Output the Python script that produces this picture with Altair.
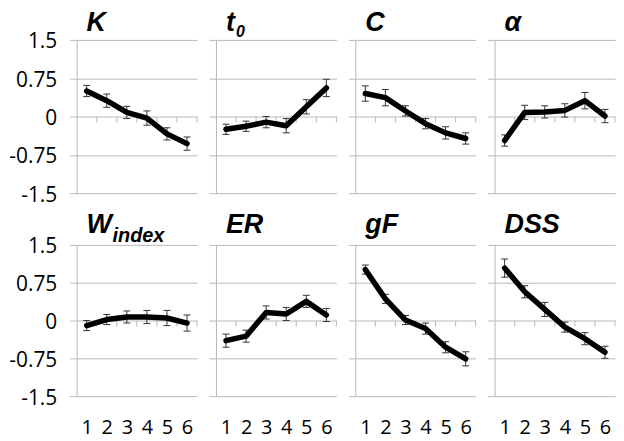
import altair as alt
import pandas as pd

steps = [1, 2, 3, 4, 5, 6]
y_ticks = [-1.5, -0.75, 0, 0.75, 1.5]

titles = ["K", "t", "C", "α", "W", "ER", "gF", "DSS"]
subs = ["", "0", "", "", "index", "", "", ""]

K_mean = [0.50, 0.31, 0.08, -0.03, -0.34, -0.53]
K_err = [0.11, 0.13, 0.12, 0.14, 0.12, 0.13]
t0_mean = [-0.25, -0.19, -0.11, -0.18, 0.19, 0.56]
t0_err = [0.10, 0.10, 0.11, 0.14, 0.14, 0.17]
C_mean = [0.45, 0.37, 0.11, -0.14, -0.32, -0.43]
C_err = [0.15, 0.16, 0.10, 0.10, 0.12, 0.11]
alpha_mean = [-0.47, 0.08, 0.09, 0.12, 0.31, 0.01]
alpha_err = [0.11, 0.14, 0.12, 0.13, 0.16, 0.13]
W_mean = [-0.10, 0.02, 0.07, 0.07, 0.05, -0.05]
W_err = [0.10, 0.10, 0.12, 0.13, 0.15, 0.16]
ER_mean = [-0.40, -0.31, 0.16, 0.13, 0.38, 0.11]
ER_err = [0.13, 0.12, 0.13, 0.13, 0.12, 0.13]
gF_mean = [1.01, 0.43, 0.01, -0.16, -0.53, -0.76]
gF_err = [0.09, 0.09, 0.09, 0.11, 0.11, 0.14]
DSS_mean = [1.04, 0.57, 0.22, -0.13, -0.36, -0.63]
DSS_err = [0.18, 0.12, 0.14, 0.10, 0.12, 0.12]

means = [K_mean, t0_mean, C_mean, alpha_mean, W_mean, ER_mean, gF_mean, DSS_mean]
errs = [K_err, t0_err, C_err, alpha_err, W_err, ER_err, gF_err, DSS_err]

GRID = "#b8b8b8"
EB = "#333333"
FONT = "Open Sans"
TFONT = "Liberation Sans"


def panel(i):
    row = i // 4
    col = i % 4
    H = 154 if row == 0 else 152
    mean = means[i]
    err = errs[i]
    df = pd.DataFrame({
        "step": steps,
        "mean": mean,
        "lo": [m - e for m, e in zip(mean, err)],
        "hi": [m + e for m, e in zip(mean, err)],
        "b": [s + 0.5 for s in steps],
        "z": [0.0] * len(steps),
    })
    xs = alt.Scale(domain=[0.5, 6.5], nice=False, zero=False)
    ys = alt.Scale(domain=[-1.5, 1.5], nice=False, zero=False)
    if row == 1:
        xaxis = alt.Axis(values=steps, grid=False, ticks=False, domain=False,
                         labelFontSize=20, labelFont=FONT, labelPadding=22,
                         labelColor="black", title=None, labelFlush=False,
                         labelOverlap=False, labelAngle=0)
    else:
        xaxis = alt.Axis(values=steps, grid=False, ticks=False, domain=False,
                         labels=False, title=None)
    yaxis = alt.Axis(values=y_ticks, grid=True, gridColor=GRID, gridWidth=1,
                     tickColor=GRID, tickSize=7, tickWidth=1,
                     domainColor=GRID, domainWidth=1,
                     labels=(col == 0), labelFontSize=21, labelFont=FONT,
                     labelPadding=13, labelColor="black", title=None,
                     labelExpr="toString(datum.value)", labelFlush=False,
                     labelOverlap=False, labelOffset=2)

    X = lambda f: alt.X(f, scale=xs, axis=xaxis)
    Y = lambda f: alt.Y(f, scale=ys, axis=yaxis)

    line = alt.Chart(df).mark_line(
        color="black", strokeWidth=5.5, interpolate="linear", strokeCap="round",
        strokeJoin="round"
    ).encode(x=X("step:Q"), y=Y("mean:Q"))
    bticks = alt.Chart(df).mark_rule(color=GRID, strokeWidth=1, y2Offset=6).encode(
        x=X("b:Q"), y=Y("z:Q"), y2="z:Q"
    )
    bars = alt.Chart(df).mark_rule(color=EB, strokeWidth=1).encode(
        x=X("step:Q"), y=Y("lo:Q"), y2="hi:Q"
    )
    cap_lo = alt.Chart(df).mark_rule(color=EB, strokeWidth=1, xOffset=-3.5, x2Offset=3.5).encode(
        x=X("step:Q"), x2="step:Q", y=Y("lo:Q")
    )
    cap_hi = alt.Chart(df).mark_rule(color=EB, strokeWidth=1, xOffset=-3.5, x2Offset=3.5).encode(
        x=X("step:Q"), x2="step:Q", y=Y("hi:Q")
    )
    base_y = -9 if row == 0 else -12
    tdf = pd.DataFrame({"t": [titles[i]]})
    ttext = alt.Chart(tdf).mark_text(
        font=TFONT, fontSize=27, fontWeight="bold", fontStyle="italic",
        align="left", baseline="alphabetic", color="black"
    ).encode(text="t:N", x=alt.value(10), y=alt.value(base_y))
    layers = [bticks, bars, cap_lo, cap_hi, line, ttext]
    if subs[i]:
        sdf = pd.DataFrame({"s": [subs[i]]})
        if subs[i] == "0":
            sx, sy, sfs = 20, base_y + 6.5, 16
        else:
            sx, sy, sfs = 36, base_y + 9, 20
        stext = alt.Chart(sdf).mark_text(
            font=TFONT, fontSize=sfs, fontWeight="bold", fontStyle="italic",
            align="left", baseline="alphabetic", color="black"
        ).encode(text="s:N", x=alt.value(sx), y=alt.value(sy))
        layers.append(stext)
    return alt.layer(*layers).properties(width=121, height=H)


chart = alt.concat(
    *[panel(i) for i in range(8)],
    columns=4,
    spacing={"row": 52, "column": 19},
    bounds="flush",
    padding=0,
    background="white",
).configure_view(stroke=None)

chart.save("out.html", embed_options={"renderer": "svg", "actions": False})
